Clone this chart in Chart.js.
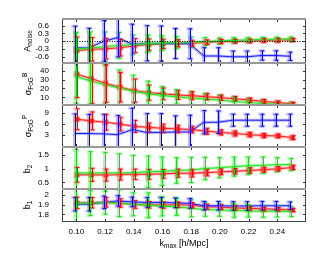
<!DOCTYPE html>
<html>
<head>
<meta charset="utf-8">
<script src="https://cdn.jsdelivr.net/npm/chart.js@4.4.0/dist/chart.umd.min.js"></script>
<style>
  html, body { margin: 0; padding: 0; background: #fff; }
  #wrap { position: relative; width: 330px; height: 255px; overflow: hidden; font-family: "Liberation Sans", Arial, sans-serif; color: #000; }
  #wrap canvas { position: absolute; left: 0; top: 0; }
  .ylab { position: absolute; transform: translate(-50%, -50%) rotate(-90deg); white-space: nowrap; font-size: 9px; line-height: 1; }
  .xlab { position: absolute; transform: translate(-50%, -50%); white-space: nowrap; font-size: 9px; line-height: 1; }
  .sub { font-size: 6.5px; position: relative; top: 2px; }
  .sup { font-size: 6.5px; position: relative; top: -4px; }
</style>
</head>
<body>
<div id="wrap">
  <canvas id="p1" width="330" height="255"></canvas>
  <canvas id="p2" width="330" height="255"></canvas>
  <canvas id="p3" width="330" height="255"></canvas>
  <canvas id="p4" width="330" height="255"></canvas>
  <canvas id="p5" width="330" height="255"></canvas>
  <div class="ylab" style="left:27px;top:41px">A<span class="sub">noise</span></div>
  <div class="ylab" style="left:28px;top:84px">σ<span class="sub">FoG</span><span class="sup">B</span></div>
  <div class="ylab" style="left:28px;top:126px">σ<span class="sub">FoG</span><span class="sup">P</span></div>
  <div class="ylab" style="left:27px;top:169px">b<span class="sub">2</span></div>
  <div class="ylab" style="left:27px;top:205px">b<span class="sub">1</span></div>
  <div class="xlab" style="left:184px;top:243px">k<span class="sub">max</span> [h/Mpc]</div>
</div>
<script>
// k_max values and tick labels
const K_MAX = [0.10, 0.11, 0.12, 0.13, 0.14, 0.15, 0.16, 0.17, 0.18, 0.19, 0.20, 0.21, 0.22, 0.23, 0.24, 0.25];
const X_TICKS = [0.10, 0.12, 0.14, 0.16, 0.18, 0.20, 0.22, 0.24];

// A_noise
const ANOISE_TICKS = [-0.6, -0.3, 0, 0.3, 0.6];
const ANOISE_RED = [-0.36, -0.31, -0.29, -0.25, -0.17, -0.13, -0.1, -0.08, -0.08, -0.04, -0.01, 0, 0.01, 0.03, 0.04, 0.05];
const ANOISE_RED_ERR = [0.52, 0.45, 0.4, 0.32, 0.27, 0.22, 0.18, 0.14, 0.12, 0.09, 0.08, 0.07, 0.07, 0.07, 0.07, 0.06];
const ANOISE_GREEN = [-0.31, -0.26, -0.21, -0.16, -0.13, -0.09, -0.07, -0.05, -0.04, -0.01, 0.01, 0.04, 0.05, 0.07, 0.08, 0.09];
const ANOISE_GREEN_ERR = [0.65, 0.62, 0.57, 0.5, 0.37, 0.33, 0.28, 0.23, 0.2, 0.15, 0.12, 0.1, 0.09, 0.08, 0.08, 0.07];
const ANOISE_BLUE = [-0.25, -0.25, 0.0, 0.14, -0.12, -0.08, -0.09, -0.09, -0.1, -0.57, -0.57, -0.6, -0.6, -0.55, -0.55, -0.58];
const ANOISE_BLUE_ERR = [0.83, 0.75, 0.8, 0.74, 0.78, 0.68, 0.68, 0.58, 0.58, 0.32, 0.32, 0.22, 0.22, 0.18, 0.18, 0.16];

// sigma_FoG^B
const SIGB_TICKS = [10, 20, 30, 40];
const SIGB_RED = [35.8, 30.9, 25.5, 21.4, 17.6, 15.3, 14.0, 12.8, 11.8, 10.8, 9.7, 8.5, 7.0, 5.5, 4.0, 2.8];
const SIGB_RED_ERR = [26, 28, 21, 16.5, 13, 8.5, 6.5, 5, 4.5, 3.5, 3, 2.5, 2.3, 2, 1.8, 1.5];
const SIGB_GREEN = [33.5, 28.5, 24.2, 20.7, 16.8, 14.2, 12.2, 10.6, 9.2, 8.1, 7.0, 5.5, 4.3, 3.2, 2.2, 1.8];
const SIGB_GREEN_ERR = [30, 26, 22, 20, 18, 14, 10, 8, 7, 6, 5, 4.5, 4, 3.5, 3, 2.5];

// sigma_FoG^P
const SIGP_TICKS = [3, 6, 9];
const SIGP_RED = [7.2, 6.75, 6.4, 5.9, 5.3, 5.0, 4.8, 4.6, 4.45, 4.0, 3.7, 3.4, 3.1, 2.85, 2.75, 2.3];
const SIGP_RED_ERR = [2.8, 2.4, 2.1, 1.8, 1.6, 1.2, 1.1, 1.0, 0.9, 0.8, 0.7, 0.65, 0.6, 0.55, 0.5, 0.5];
const SIGP_BLUE = [3.4, 3.4, 3.3, 3.1, 4.45, 3.7, 3.7, 3.8, 3.8, 6.4, 6.4, 6.95, 6.95, 6.95, 6.95, 6.95];
const SIGP_BLUE_ERR = [5.2, 5.1, 5.2, 5.1, 5.7, 5, 5, 4.3, 4.5, 3.1, 3.0, 1.6, 1.6, 1.6, 1.6, 1.6];

// b2
const B2_TICKS = [0.5, 1, 1.5];
const B2_RED = [0.78, 0.78, 0.77, 0.79, 0.8, 0.8, 0.815, 0.84, 0.84, 0.86, 0.89, 0.91, 0.94, 0.97, 1.0, 1.05];
const B2_RED_ERR = [0.27, 0.24, 0.22, 0.2, 0.19, 0.18, 0.16, 0.15, 0.14, 0.12, 0.11, 0.1, 0.1, 0.09, 0.08, 0.08];
const B2_GREEN = [0.85, 0.85, 0.85, 0.85, 0.86, 0.89, 0.91, 0.94, 0.96, 1.01, 1.04, 1.08, 1.11, 1.13, 1.15, 1.16];
const B2_GREEN_ERR = [0.85, 0.78, 0.75, 0.7, 0.63, 0.58, 0.52, 0.47, 0.46, 0.41, 0.37, 0.35, 0.32, 0.3, 0.26, 0.22];

// b1
const B1_TICKS = [1.8, 1.9, 2];
const B1_RED = [1.92, 1.922, 1.926, 1.918, 1.903, 1.9, 1.897, 1.9, 1.895, 1.88, 1.876, 1.866, 1.863, 1.856, 1.853, 1.845];
const B1_RED_ERR = [0.06, 0.055, 0.05, 0.045, 0.04, 0.035, 0.033, 0.03, 0.028, 0.026, 0.024, 0.022, 0.02, 0.02, 0.018, 0.016];
const B1_GREEN = [1.916, 1.918, 1.922, 1.916, 1.905, 1.895, 1.884, 1.88, 1.863, 1.85, 1.845, 1.84, 1.836, 1.833, 1.833, 1.83];
const B1_GREEN_ERR = [0.2, 0.13, 0.12, 0.14, 0.12, 0.13, 0.1, 0.09, 0.088, 0.07, 0.065, 0.07, 0.065, 0.063, 0.06, 0.053];
const B1_BLUE = [1.905, 1.905, 1.925, 1.94, 1.93, 1.925, 1.925, 1.92, 1.915, 1.89, 1.89, 1.887, 1.887, 1.89, 1.89, 1.89];
const B1_BLUE_ERR = [0.07, 0.07, 0.065, 0.055, 0.05, 0.05, 0.05, 0.05, 0.05, 0.045, 0.045, 0.045, 0.045, 0.045, 0.045, 0.04];

const STYLE = {
  red:   { dark: "#ff0000", light: "rgba(255,70,70,0.4)",  dx: 0.0007,  marker: true },
  green: { dark: "#14dc14", light: "rgba(50,240,50,0.4)",  dx: -0.0003, marker: false },
  blue:  { dark: "#0000ff", light: "rgba(80,80,255,0.4)",  dx: -0.001,  marker: false }
};

const FONT = { family: "Liberation Sans, Arial, sans-serif", size: 8 };

// one colour -> light wide copy underneath + dark thin line on top
function series(name, vals, errs) {
  const s = STYLE[name];
  const pts = (dx) => K_MAX.map((k, i) => ({ x: k + dx, y: vals[i] }));
  return [
    {
      data: pts(s.dx - 0.0006), errors: errs, light: true,
      borderColor: s.light, backgroundColor: s.light, borderWidth: 3,
      pointStyle: "rect", pointRadius: s.marker ? 4.5 : 0, pointBorderWidth: 0
    },
    {
      data: pts(s.dx), errors: errs, light: false,
      borderColor: s.dark, backgroundColor: s.dark, borderWidth: 1,
      pointStyle: "rect", pointRadius: s.marker ? 2.8 : 0, pointBorderWidth: 0
    }
  ];
}

function drawErrorBars(chart, light) {
  const { ctx, chartArea: a, scales: { x, y } } = chart;
  ctx.save();
  ctx.beginPath();
  ctx.rect(a.left, a.top, a.right - a.left, a.bottom - a.top);
  ctx.clip();
  chart.data.datasets.forEach(ds => {
    if (!ds.errors || ds.light !== light) return;
    ctx.strokeStyle = ds.borderColor;
    ctx.lineWidth = light ? 3 : 1;
    const cap = light ? 3 : 2;
    ds.data.forEach((p, i) => {
      const px = Math.round(x.getPixelForValue(p.x)) + 0.5;
      const y1 = y.getPixelForValue(p.y + ds.errors[i]);
      const y2 = y.getPixelForValue(p.y - ds.errors[i]);
      ctx.beginPath();
      ctx.moveTo(px, y1); ctx.lineTo(px, y2);
      ctx.moveTo(px - cap, y1); ctx.lineTo(px + cap, y1);
      ctx.moveTo(px - cap, y2); ctx.lineTo(px + cap, y2);
      ctx.stroke();
    });
  });
  ctx.restore();
}

const panelDecor = {
  id: "panelDecor",
  beforeDatasetsDraw(chart) { drawErrorBars(chart, true); },
  afterDatasetsDraw(chart) { drawErrorBars(chart, false); },
  afterDraw(chart, args, opts) {
    const { ctx, chartArea: a, scales: { x, y } } = chart;
    ctx.save();
    // zero reference line
    if (opts.zero) {
      const zy = Math.round(y.getPixelForValue(0)) + 0.5;
      ctx.strokeStyle = "#000";
      ctx.lineWidth = 1;
      ctx.setLineDash([1, 1.5]);
      ctx.beginPath(); ctx.moveTo(a.left, zy); ctx.lineTo(a.right, zy); ctx.stroke();
      ctx.setLineDash([]);
    }
    // inward ticks
    ctx.strokeStyle = "#333";
    ctx.lineWidth = 1;
    ctx.beginPath();
    y.ticks.forEach(t => {
      const py = Math.round(y.getPixelForValue(t.value)) + 0.5;
      ctx.moveTo(a.left, py); ctx.lineTo(a.left + 3, py);
      ctx.moveTo(a.right, py); ctx.lineTo(a.right - 3, py);
    });
    X_TICKS.forEach(v => {
      const px = Math.round(x.getPixelForValue(v)) + 0.5;
      ctx.moveTo(px, a.top); ctx.lineTo(px, a.top + 3);
      ctx.moveTo(px, a.bottom); ctx.lineTo(px, a.bottom - 3);
    });
    ctx.stroke();
    // frame
    ctx.strokeStyle = "#444";
    ctx.beginPath();
    ctx.moveTo(a.left + 0.5, a.top); ctx.lineTo(a.left + 0.5, a.bottom);
    ctx.moveTo(a.right - 0.5, a.top); ctx.lineTo(a.right - 0.5, a.bottom);
    ctx.stroke();
    ctx.strokeStyle = "#999";
    ctx.lineWidth = 2;
    ctx.beginPath();
    ctx.moveTo(a.left, a.top); ctx.lineTo(a.right, a.top);
    if (!opts.last) { ctx.moveTo(a.left, a.bottom); ctx.lineTo(a.right, a.bottom); }
    ctx.stroke();
    if (opts.last) {
      ctx.strokeStyle = "#444";
      ctx.lineWidth = 1;
      ctx.beginPath(); ctx.moveTo(a.left, a.bottom - 0.5); ctx.lineTo(a.right, a.bottom - 0.5); ctx.stroke();
      // x tick labels
      ctx.fillStyle = "#000";
      ctx.font = FONT.size + "px " + FONT.family;
      ctx.textAlign = "center";
      ctx.textBaseline = "middle";
      X_TICKS.forEach(v => ctx.fillText(v.toFixed(2), x.getPixelForValue(v), a.bottom + 10));
    }
    ctx.restore();
  }
};

function makePanel(id, top, bottom, yMin, yMax, yTicks, datasets, extra) {
  const last = !!extra.last;
  new Chart(document.getElementById(id), {
    type: "line",
    data: { datasets },
    plugins: [panelDecor],
    options: {
      responsive: false,
      animation: false,
      layout: { autoPadding: false, padding: { left: 0, right: 24, top: top, bottom: 255 - bottom } },
      plugins: {
        legend: { display: false },
        tooltip: { enabled: false },
        panelDecor: { zero: !!extra.zero, last: last }
      },
      scales: {
        x: {
          type: "linear", min: 0.09, max: 0.26, display: false,
          afterBuildTicks: s => { s.ticks = X_TICKS.map(v => ({ value: v })); }
        },
        y: {
          type: "linear", min: yMin, max: yMax,
          afterBuildTicks: s => { s.ticks = yTicks.map(v => ({ value: v })); },
          afterFit: s => { s.width = 62; },
          grid: { display: false }, border: { display: false },
          ticks: { font: FONT, color: "#000", padding: 5, autoSkip: false, callback: v => String(v) }
        }
      }
    }
  });
}

makePanel("p1", 19, 63, -0.84, 0.86, ANOISE_TICKS, [
  ...series("green", ANOISE_GREEN, ANOISE_GREEN_ERR),
  ...series("blue", ANOISE_BLUE, ANOISE_BLUE_ERR),
  ...series("red", ANOISE_RED, ANOISE_RED_ERR)
], { zero: true });

makePanel("p2", 63, 105, 1.5, 48.5, SIGB_TICKS, [
  ...series("green", SIGB_GREEN, SIGB_GREEN_ERR),
  ...series("red", SIGB_RED, SIGB_RED_ERR)
], {});

makePanel("p3", 105, 147, -0.2, 11, SIGP_TICKS, [
  ...series("blue", SIGP_BLUE, SIGP_BLUE_ERR),
  ...series("red", SIGP_RED, SIGP_RED_ERR)
], {});

makePanel("p4", 147, 189, 0.26, 1.8, B2_TICKS, [
  ...series("green", B2_GREEN, B2_GREEN_ERR),
  ...series("red", B2_RED, B2_RED_ERR)
], {});

makePanel("p5", 189, 222, 1.72, 2.065, B1_TICKS, [
  ...series("green", B1_GREEN, B1_GREEN_ERR),
  ...series("blue", B1_BLUE, B1_BLUE_ERR),
  ...series("red", B1_RED, B1_RED_ERR)
], { last: true });
</script>
</body>
</html>
